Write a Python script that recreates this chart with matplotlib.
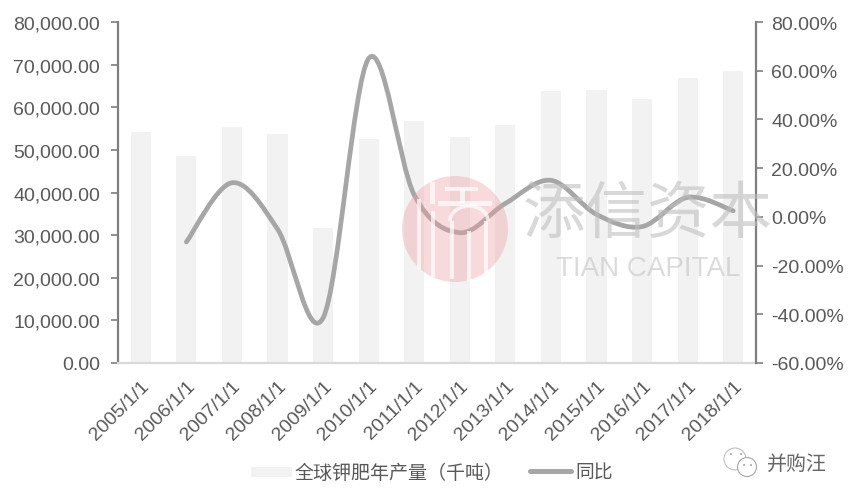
#!/usr/bin/env python3
import matplotlib
matplotlib.use("Agg")
import matplotlib.pyplot as plt
from matplotlib.patches import Arc, Circle, PathPatch, Rectangle
from matplotlib.path import Path

plt.rcParams["font.family"] = ["Liberation Sans", "Noto Sans CJK SC", "DejaVu Sans"]

# 数据
years = ["2005/1/1", "2006/1/1", "2007/1/1", "2008/1/1", "2009/1/1", "2010/1/1", "2011/1/1",
         "2012/1/1", "2013/1/1", "2014/1/1", "2015/1/1", "2016/1/1", "2017/1/1", "2018/1/1"]
output = [54200, 48600, 55400, 53700, 31700, 52500, 56800,
          53000, 55800, 63800, 64000, 62000, 66900, 68500]
yoy = [None, -10.3, 14.0, -5.0, -41.5, 65.0, 9.0,
       -6.5, 5.5, 15.0, 1.0, -4.0, 8.0, 2.5]
left_ticks = [0, 10000, 20000, 30000, 40000, 50000, 60000, 70000, 80000]
right_ticks = [-60, -40, -20, 0, 20, 40, 60, 80]

TEXT = "#595959"
AXIS = "#7f7f7f"
BAR = "#f2f2f2"
LINE = "#a6a6a6"
CJK = ["Noto Sans CJK SC", "DejaVu Sans"]
W, H = 855, 502


def smooth_path(xs, ys):
    """和 Excel 平滑线类似的 Bezier 路径"""
    verts = [(xs[0], ys[0])]
    codes = [Path.MOVETO]
    n = len(xs)
    for i in range(n - 1):
        x0, y0 = (xs[i - 1], ys[i - 1]) if i > 0 else (xs[i], ys[i])
        x1, y1 = xs[i], ys[i]
        x2, y2 = xs[i + 1], ys[i + 1]
        x3, y3 = (xs[i + 2], ys[i + 2]) if i + 2 < n else (x2, y2)
        verts += [(x1 + (x2 - x0) / 6, y1 + (y2 - y0) / 6),
                  (x2 - (x3 - x1) / 6, y2 - (y3 - y1) / 6),
                  (x2, y2)]
        codes += [Path.CURVE4] * 3
    return Path(verts, codes)


fig = plt.figure(figsize=(W / 100, H / 100), dpi=100)
ax = fig.add_axes([118 / W, 1 - 364 / H, (756 - 118) / W, (364 - 23) / H])
ax2 = ax.twinx()

x = list(range(len(years)))
ax.bar(x, output, width=0.44, color=BAR, label="全球钾肥年产量（千吨）")
ax.set_xlim(-0.5, len(years) - 0.5)
ax.set_ylim(0, 80000)
ax.set_yticks(left_ticks)
ax.set_yticklabels([f"{v:,.2f}" for v in left_ticks])
ax.set_xticks(x)
ax.set_xticklabels(years, rotation=45, ha="right", rotation_mode="anchor")

line_x = [i for i, v in zip(x, yoy) if v is not None]
line_y = [v for v in yoy if v is not None]
ax2.set_ylim(-60, 80)
ax2.set_yticks(right_ticks)
ax2.set_yticklabels([f"{v:.2f}%" for v in right_ticks])
ax2.add_patch(PathPatch(smooth_path(line_x, line_y), fill=False, edgecolor=LINE,
                        linewidth=3.4, capstyle="round", zorder=3))

for a in (ax, ax2):
    for s in ("top", "left", "right", "bottom"):
        a.spines[s].set_visible(False)
ax.spines["left"].set(visible=True, color=AXIS, linewidth=1.6)
ax2.spines["right"].set(visible=True, color=AXIS, linewidth=1.6)
ax.spines["bottom"].set(visible=True, color="#d9d9d9", linewidth=1.6)
ax.tick_params(axis="y", length=5, width=1.2, color=AXIS, labelsize=14, labelcolor=TEXT, pad=8)
ax.tick_params(axis="x", length=0, labelsize=14, labelcolor=TEXT, pad=10)
ax2.tick_params(axis="y", length=5, width=1.2, color=AXIS, labelsize=14, labelcolor=TEXT, pad=6)

# 水印
wm = fig.add_axes([0, 0, 1, 1], zorder=5)
wm.set_xlim(0, W)
wm.set_ylim(H, 0)
wm.axis("off")
wm.patch.set_alpha(0)
wm.add_patch(Circle((455, 230), 53, color="#ee9fa6", alpha=0.38, lw=0))
strokes = [(445, 188, 33, 4), (438, 202, 54, 5), (460, 190, 5, 14), (430, 183, 5, 22),
           (417, 200, 4, 70), (431, 212, 4, 66), (450, 222, 4, 58), (467, 232, 4, 50),
           (484, 222, 4, 54)]
for rx, ry, rw, rh in strokes:
    wm.add_patch(Rectangle((rx, ry), rw, rh, color="white", alpha=0.7, lw=0))
wm.add_patch(Arc((469, 222), 38, 30, theta1=180, theta2=360, edgecolor="white", alpha=0.7, lw=2.6))
wm.text(648, 215, "添信资本", fontsize=45, color="#bfbfbf", alpha=0.6, ha="center", va="center",
        family=CJK)
wm.text(648, 269, "TIAN CAPITAL", fontsize=20, color="#bfbfbf", alpha=0.55, ha="center", va="center")

# 图例
wm.add_patch(Rectangle((251, 468), 41, 10, color=BAR, lw=0))
wm.text(295, 473, "全球钾肥年产量（千吨）", fontsize=13.7, color=TEXT, va="center", family=CJK)
wm.plot([530, 571], [472, 472], color=LINE, lw=3.6, solid_capstyle="round")
wm.text(575, 473, "同比", fontsize=13.5, color=TEXT, va="center", family=CJK)

# 公众号标识
wm.add_patch(Circle((735, 460), 11, fill=False, edgecolor="#bfbfbf", lw=0.8))
wm.add_patch(Circle((747, 468), 9.5, facecolor="white", edgecolor="#a6a6a6", lw=0.8))
for ex, ey in [(731, 455), (741, 455), (744, 466), (751, 466)]:
    wm.add_patch(Circle((ex, ey), 1, color="#a6a6a6", lw=0))
wm.text(767, 464, "并购汪", fontsize=14.4, color="#666666", va="center", family=CJK)

fig.savefig("out.png", dpi=100)
